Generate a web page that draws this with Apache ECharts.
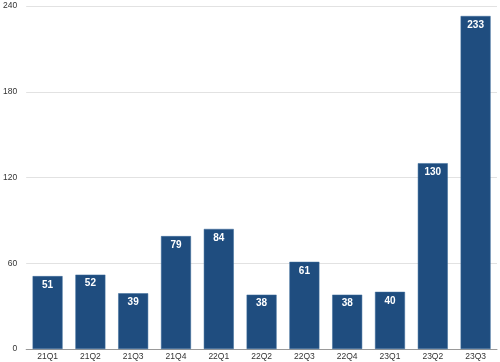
<!DOCTYPE html>
<html><head><meta charset="utf-8">
<script src="https://cdn.jsdelivr.net/npm/echarts@6/dist/echarts.min.js"></script>
<style>html,body{margin:0;padding:0;background:#fff}#c{width:500px;height:362px}</style>
</head><body><div id="c"></div>
<script>
const categories = ['21Q1','21Q2','21Q3','21Q4','22Q1','22Q2','22Q3','22Q4','23Q1','23Q2','23Q3'];
const values = [51,52,39,79,84,38,61,38,40,130,233];
const yTicks = [0,60,120,180,240];
const chart = echarts.init(document.getElementById('c'), null, {renderer:'canvas'});
chart.setOption({
  animation:false,
  grid:{left:25.5,right:3,top:6,bottom:13,containLabel:false},
  xAxis:{type:'category',data:categories,
    axisLine:{lineStyle:{color:'#999',width:1}},axisTick:{show:false},
    axisLabel:{color:'#333',fontSize:8.5,margin:3,fontFamily:'Liberation Sans, Arial'}},
  yAxis:{type:'value',min:yTicks[0],max:yTicks[yTicks.length-1],interval:60,
    axisLine:{show:false},axisTick:{show:false},
    splitLine:{lineStyle:{color:'#e2e2e2',width:1}},
    axisLabel:{color:'#333',fontSize:8.5,margin:9,fontFamily:'Liberation Sans, Arial'}},
  series:[{type:'bar',data:values,barWidth:'70%',
    itemStyle:{color:'#1f4d7f',borderColor:'#3a6a9a',borderWidth:0.5},
    label:{show:true,position:'insideTop',distance:4,color:'#fff',fontSize:10,fontWeight:'bold',fontFamily:'Liberation Sans, Arial'}}]
});
</script></body></html>
